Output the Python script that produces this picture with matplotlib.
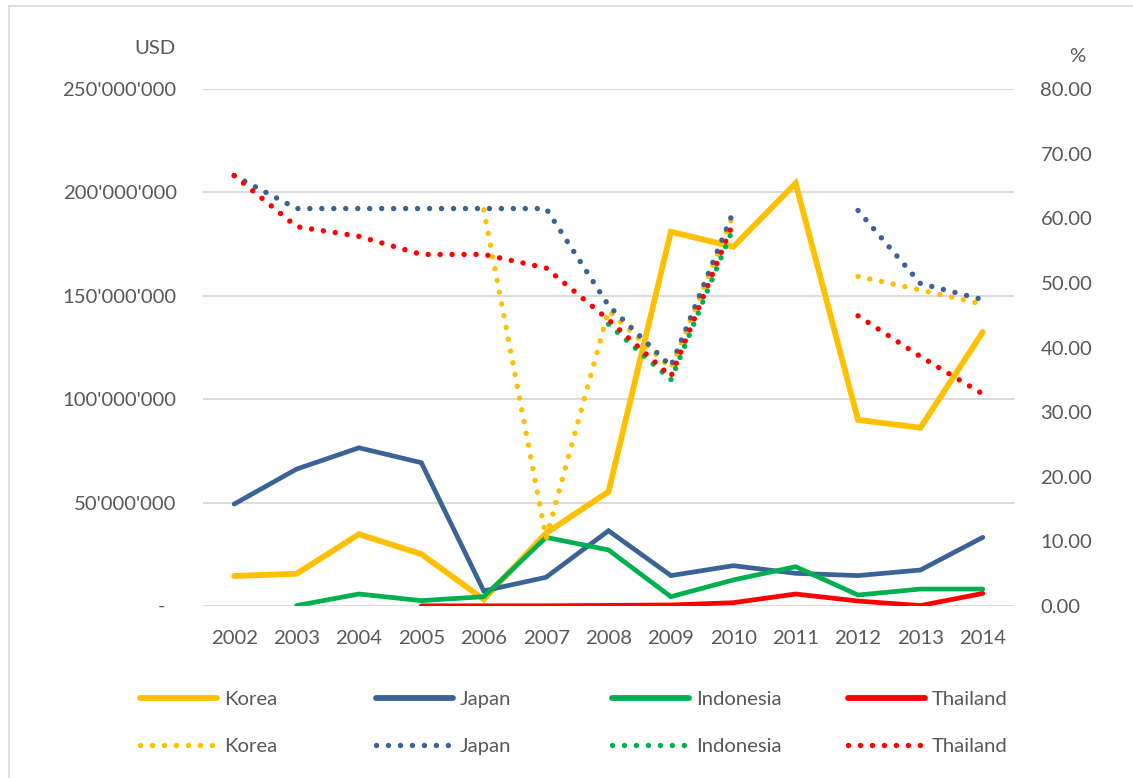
import numpy as np
import matplotlib
matplotlib.use("Agg")
import matplotlib.pyplot as plt
from matplotlib.lines import Line2D
from matplotlib.ticker import FuncFormatter

nan = np.nan
years = list(range(2002, 2015))
countries = ["Korea", "Japan", "Indonesia", "Thailand"]
colors = ["#FFC000", "#3B6396", "#00B050", "#FF0000"]

# solid lines, left axis (USD, millions)
korea_usd = [14.5, 15.6, 34.7, 25.1, 3.2, 35.3, 55.3, 181.0, 173.7, 204.4, 90.0, 86.2, 132.5]
japan_usd = [49.3, 66.2, 76.5, 69.3, 7.3, 13.9, 36.4, 14.7, 19.5, 15.8, 14.7, 17.4, 33.2]
indonesia_usd = [nan, 0.2, 5.8, 2.6, 4.5, 33.2, 27.1, 4.5, 12.6, 19.0, 5.3, 8.2, 8.2]
thailand_usd = [nan, nan, nan, 0.1, 0.1, 0.1, 0.3, 0.5, 1.6, 5.8, 2.4, 0.2, 6.1]

# dotted lines, right axis (%)
korea_pct = [nan, nan, nan, nan, 61.3, 10.5, 45.7, 36.8, 60.5, nan, 51.0, 48.9, 46.7]
japan_pct = [66.6, 61.5, 61.5, 61.5, 61.5, 61.5, 46.5, 37.1, 61.0, nan, 61.2, 49.9, 47.4]
indonesia_pct = [nan, nan, nan, nan, nan, nan, 43.6, 35.0, 58.5, nan, nan, nan, nan]
thailand_pct = [66.6, 58.7, 57.2, 54.4, 54.4, 52.3, 44.3, 35.5, 59.3, nan, 44.9, 38.6, 32.8]

usd = [korea_usd, japan_usd, indonesia_usd, thailand_usd]
pct = [korea_pct, japan_pct, indonesia_pct, thailand_pct]

plt.rcParams["font.family"] = ["Lato", "DejaVu Sans"]
txt = "#595959"
fs = 14.6
W, H = 1133, 778

fig = plt.figure(figsize=(W / 100, H / 100), dpi=100)
ax = fig.add_axes([203 / W, 1 - 606 / H, 811 / W, 517 / H])
ax2 = ax.twinx()

solid_w = [4.2, 3.4, 3.4, 3.4]
dot_w = 3.9
dot = (0, (0.01, 2.2))

for i in range(4):
    ax.plot(years, np.array(usd[i]) * 1e6, color=colors[i], lw=solid_w[i],
            solid_capstyle="round", solid_joinstyle="miter", zorder=3)
for i in range(4):
    ax2.plot(years, pct[i], color=colors[i], lw=dot_w, linestyle=dot,
             dash_capstyle="round", zorder=3)

ax.set_xlim(2001.5, 2014.5)
ax.set_ylim(0, 250e6)
ax2.set_ylim(0, 80)
ax.set_xticks(years)
ax.set_yticks(np.arange(0, 250e6 + 1, 50e6))
ax2.set_yticks(np.arange(0, 81, 10))

ax.yaxis.set_major_formatter(FuncFormatter(
    lambda v, p: "" if v == 0 else f"{int(v):,}".replace(",", "'")))
ax2.yaxis.set_major_formatter(FuncFormatter(lambda v, p: f"{v:.2f}"))

ax.grid(axis="y", color="#D9D9D9", lw=1.3)
ax.set_axisbelow(True)
for a in (ax, ax2):
    for s in a.spines.values():
        s.set_visible(False)
ax.tick_params(axis="y", length=0, pad=19, labelsize=fs, labelcolor=txt)
ax.tick_params(axis="x", length=0, pad=17, labelsize=fs, labelcolor=txt)
ax2.tick_params(axis="y", length=0, pad=19, labelsize=fs, labelcolor=txt)

# zero label of the left axis
ax.annotate("-", xy=(0, 0), xycoords=("axes fraction", "data"), xytext=(-38, 0),
            textcoords="offset pixels", ha="right", va="center", fontsize=fs, color=txt)

fig.text(176 / W, 1 - 48 / H, "USD", ha="right", va="center", fontsize=fs, color=txt)
fig.text(1077 / W, 1 - 56 / H, "%", ha="center", va="center", fontsize=fs, color=txt)

# legend: one small legend per country column
for i, name in enumerate(countries):
    h1 = Line2D([], [], color=colors[i], lw=4.2, solid_capstyle="round")
    h2 = Line2D([], [], color=colors[i], lw=dot_w, linestyle=dot, dash_capstyle="round")
    leg = fig.legend(handles=[h1, h2], labels=[name, name], loc="center left",
                     bbox_to_anchor=((140 + 236 * i) / W, 1 - 723 / H),
                     frameon=False, handlelength=3.8, handletextpad=0.35,
                     labelspacing=1.5, borderpad=0, borderaxespad=0, fontsize=fs)
    for t in leg.get_texts():
        t.set_color(txt)

# chart frame (left and top edges)
fig.add_artist(Line2D([8.5 / W, 8.5 / W], [0, 1 - 6 / H], transform=fig.transFigure,
                      color="#D9D9D9", lw=1.2))
fig.add_artist(Line2D([8.5 / W, 1], [1 - 6 / H, 1 - 6 / H], transform=fig.transFigure,
                      color="#D9D9D9", lw=1.2))

fig.savefig("out.png", dpi=100, facecolor="white")
